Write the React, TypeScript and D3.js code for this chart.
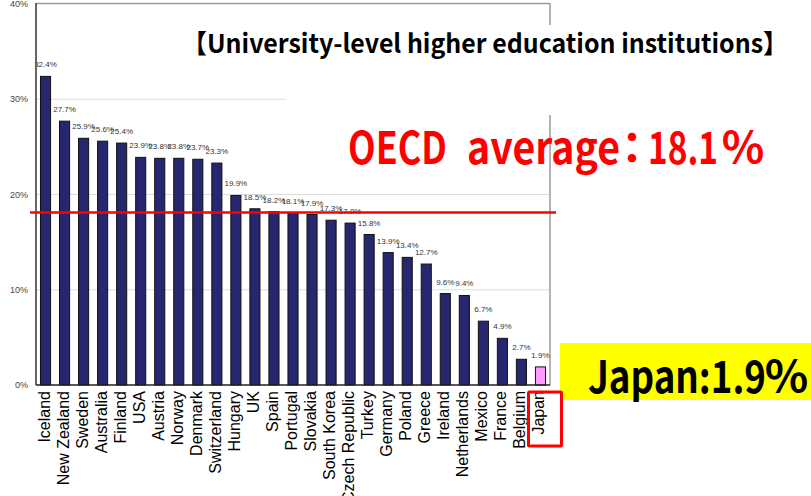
import React from "react";
import * as d3 from "d3";

const countries = ["Iceland","New Zealand","Sweden","Australia","Finland","USA","Austria","Norway","Denmark","Switzerland","Hungary","UK","Spain","Portugal","Slovakia","South Korea","Czech Republic","Turkey","Germany","Poland","Greece","Ireland","Netherlands","Mexico","France","Belgium","Japan"];
const values = [32.4,27.7,25.9,25.6,25.4,23.9,23.8,23.8,23.7,23.3,19.9,18.5,18.2,18.1,17.9,17.3,17.0,15.8,13.9,13.4,12.7,9.6,9.4,6.7,4.9,2.7,1.9];
const yTicks = [0, 10, 20, 30, 40];
const oecdAverage = 18.1;
const highlight = "Japan";
const titleText = "【University-level higher education institutions】";
const oecdParts = ["OECD", "average", "：", "18.1", "％"];
const japanParts = ["Japan:1.9", "％"];

const W = 811, H = 496;
const plotL = 36, plotR = 550, plotT = 4, plotB = 385;
// layout of the callout pieces (x start, length)
const oecdLayout = [[348, 99], [467, 153], [610, 44], [648, 70], [721, 44]];
const japanLayout = [[588, 178], [764, 45]];

export default function App() {
  const x = d3.scaleBand<string>().domain(countries).range([plotL, plotR]).paddingInner(0.47).paddingOuter(0.235);
  const y = d3.scaleLinear().domain([0, 40]).range([plotB, plotT]);
  const fmt = (v: number) => v.toFixed(1) + "%";
  const jx = (x(highlight) as number) + x.bandwidth() / 2;

  return (
    <svg width={W} height={H} style={{ position: "absolute", left: 0, top: 0, background: "#fff" }}
      fontFamily="'Liberation Sans', Arial, sans-serif">
      {yTicks.filter(t => t > 0 && t < 40).map(t => (
        <line key={t} x1={plotL} x2={plotR} y1={y(t)} y2={y(t)} stroke="#dcdcdc" strokeWidth={1} />
      ))}
      <line x1={plotL} x2={plotR} y1={plotT - 0.5} y2={plotT - 0.5} stroke="#9a9a9a" strokeWidth={1.5} />
      <line x1={plotR} x2={plotR} y1={plotT - 0.5} y2={plotB} stroke="#9a9a9a" strokeWidth={1.5} />
      {yTicks.map(t => (
        <text key={t} x={28} y={y(t)} dy="0.35em" textAnchor="end" fontSize={9} fill="#444">{t}%</text>
      ))}
      {countries.map((c, i) => (
        <rect key={c} x={x(c)} y={y(values[i])} width={x.bandwidth()} height={plotB - y(values[i])}
          fill={c === highlight ? "#ff99ff" : "#27276f"} stroke="#111" strokeWidth={1} />
      ))}
      {countries.map((c, i) => (
        <text key={c} x={(x(c) as number) + x.bandwidth() / 2} y={y(values[i]) - 9} textAnchor="middle"
          fontSize={8} fill="#333">{fmt(values[i])}</text>
      ))}
      <line x1={plotL} x2={plotL} y1={plotT - 1} y2={plotB} stroke="#666" strokeWidth={2} />
      <line x1={plotL} x2={plotR} y1={plotB} y2={plotB} stroke="#222" strokeWidth={1.5} />
      {countries.map(c => {
        const cx = (x(c) as number) + x.bandwidth() / 2;
        return (
          <text key={c} transform={`translate(${cx},${plotB + 6}) rotate(-90)`} dy="0.25em" textAnchor="end"
            fontSize={16} fill="#000">{c}</text>
        );
      })}
      <rect x={285} y={25} width={W - 285} height={90} fill="#fff" />
      <text x={182} y={53} fontSize={26} fontWeight="bold" fill="#000" textLength={606} lengthAdjust="spacingAndGlyphs"
        fontFamily="'Noto Sans CJK JP', 'Liberation Sans', sans-serif">{titleText}</text>
      <line x1={30} x2={556} y1={y(oecdAverage)} y2={y(oecdAverage)} stroke="#ff0000" strokeWidth={2.5} />
      {oecdParts.map((p, i) => (
        <text key={i} x={oecdLayout[i][0]} y={164} fontSize={44} fontWeight={700} fill="#ff0000"
          textLength={oecdLayout[i][1]} lengthAdjust="spacingAndGlyphs"
          fontFamily="'Noto Sans CJK JP', sans-serif">{p}</text>
      ))}
      <rect x={560} y={343} width={W - 560} height={57} fill="#ffff00" />
      {japanParts.map((p, i) => (
        <text key={i} x={japanLayout[i][0]} y={393} fontSize={44} fontWeight={700} fill="#000"
          textLength={japanLayout[i][1]} lengthAdjust="spacingAndGlyphs"
          fontFamily="'Noto Sans CJK JP', sans-serif">{p}</text>
      ))}
      <rect x={jx - 12} y={392} width={33} height={54} fill="none" stroke="#ff0000" strokeWidth={3} rx={1} />
    </svg>
  );
}
